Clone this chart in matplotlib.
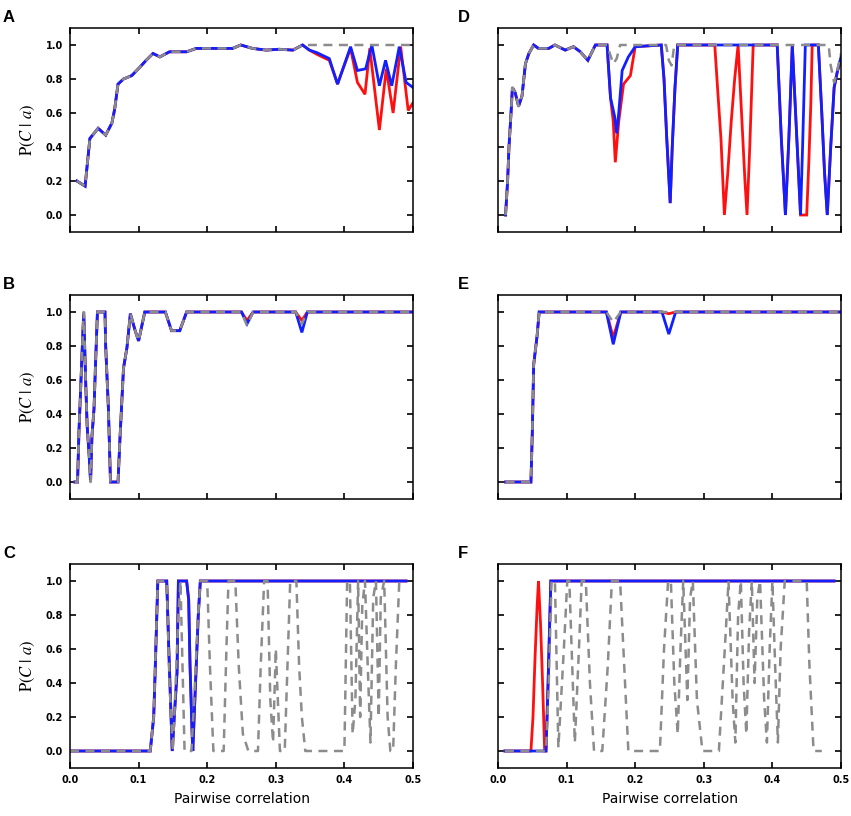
import matplotlib
matplotlib.use('Agg')
import matplotlib.pyplot as plt

plt.rcParams['mathtext.fontset'] = 'stix'
plt.rcParams['font.family'] = 'DejaVu Sans'

# ---- panel A ----
a_x_red = [0.010, 0.022, 0.029, 0.041, 0.052, 0.061, 0.065, 0.070, 0.078, 0.090, 0.102, 0.111,
           0.121, 0.131, 0.145, 0.170, 0.184, 0.237, 0.249, 0.266, 0.286, 0.305, 0.325, 0.339,
           0.349, 0.360, 0.378, 0.390, 0.397, 0.409, 0.419, 0.430, 0.437, 0.451, 0.461, 0.471,
           0.482, 0.493, 0.500]
a_y_red = [0.20, 0.17, 0.45, 0.51, 0.47, 0.54, 0.62, 0.77, 0.80, 0.82, 0.87, 0.91,
           0.95, 0.93, 0.96, 0.96, 0.98, 0.98, 1.00, 0.98, 0.97, 0.975, 0.97, 1.00,
           0.97, 0.945, 0.91, 0.77, 0.85, 0.98, 0.78, 0.71, 0.98, 0.50, 0.86, 0.60,
           0.99, 0.615, 0.66]
a_x_blue = [0.010, 0.022, 0.029, 0.041, 0.052, 0.061, 0.065, 0.070, 0.078, 0.090, 0.102, 0.111,
            0.121, 0.131, 0.145, 0.170, 0.184, 0.237, 0.249, 0.266, 0.286, 0.305, 0.325, 0.339,
            0.349, 0.360, 0.378, 0.390, 0.397, 0.409, 0.419, 0.431, 0.440, 0.451, 0.460, 0.469,
            0.480, 0.490, 0.500]
a_y_blue = [0.20, 0.17, 0.45, 0.51, 0.47, 0.54, 0.62, 0.77, 0.80, 0.82, 0.87, 0.91,
            0.95, 0.93, 0.96, 0.96, 0.98, 0.98, 1.00, 0.98, 0.97, 0.975, 0.97, 1.00,
            0.97, 0.955, 0.92, 0.77, 0.85, 0.99, 0.85, 0.86, 1.00, 0.76, 0.91, 0.76,
            0.99, 0.78, 0.75]
a_x_grey = [0.010, 0.022, 0.029, 0.041, 0.052, 0.061, 0.065, 0.070, 0.078, 0.090, 0.102, 0.111,
            0.121, 0.131, 0.145, 0.170, 0.184, 0.237, 0.249, 0.266, 0.286, 0.305, 0.325, 0.339,
            0.500]
a_y_grey = [0.20, 0.17, 0.45, 0.51, 0.47, 0.54, 0.62, 0.77, 0.80, 0.82, 0.87, 0.91,
            0.95, 0.93, 0.96, 0.96, 0.98, 0.98, 1.00, 0.98, 0.97, 0.975, 0.97, 1.00,
            1.00]

# ---- panel B ----
b_x = [0.007, 0.011, 0.013, 0.017, 0.020, 0.023, 0.025, 0.028, 0.030, 0.032, 0.035, 0.037,
       0.040, 0.051, 0.052, 0.056, 0.059, 0.070, 0.073, 0.078, 0.083, 0.088, 0.095, 0.100,
       0.109, 0.139, 0.148, 0.160, 0.170, 0.250, 0.258, 0.267, 0.329, 0.338, 0.346, 0.500]
b_y_red = [0.0, 0.0, 0.29, 0.70, 1.0, 0.57, 0.33, 0.15, 0.0, 0.27, 0.43, 0.67,
           1.0, 1.0, 0.80, 0.43, 0.0, 0.0, 0.27, 0.67, 0.79, 0.99, 0.89, 0.83,
           1.0, 1.0, 0.89, 0.89, 1.0, 1.0, 0.95, 1.0, 1.0, 0.95, 1.0, 1.0]
b_y_blue = [0.0, 0.0, 0.29, 0.70, 1.0, 0.57, 0.33, 0.15, 0.0, 0.27, 0.43, 0.67,
            1.0, 1.0, 0.80, 0.43, 0.0, 0.0, 0.27, 0.67, 0.79, 0.99, 0.89, 0.83,
            1.0, 1.0, 0.89, 0.89, 1.0, 1.0, 0.93, 1.0, 1.0, 0.88, 1.0, 1.0]
b_y_grey = [0.0, 0.0, 0.29, 0.70, 1.0, 0.57, 0.33, 0.15, 0.0, 0.27, 0.43, 0.67,
            1.0, 1.0, 0.80, 0.43, 0.0, 0.0, 0.27, 0.67, 0.79, 0.99, 0.89, 0.83,
            1.0, 1.0, 0.89, 0.89, 1.0, 1.0, 0.92, 1.0, 1.0, 0.93, 1.0, 1.0]

# ---- panel C ----
c_x_blue = [0.0, 0.117, 0.122, 0.124, 0.128, 0.141, 0.144, 0.149, 0.152, 0.156, 0.158, 0.170,
            0.173, 0.175, 0.178, 0.179, 0.183, 0.187, 0.190, 0.490]
c_y_blue = [0.0, 0.0, 0.2, 0.45, 1.0, 1.0, 0.6, 0.0, 0.2, 0.46, 1.0, 1.0,
            0.89, 0.5, 0.1, 0.0, 0.4, 0.8, 1.0, 1.0]
c_x_red = c_x_blue
c_y_red = c_y_blue
c_x_grey = [0.000, 0.117, 0.122, 0.128, 0.141, 0.145, 0.150, 0.153, 0.158, 0.161, 0.164, 0.167,
            0.177, 0.181, 0.186, 0.190, 0.200, 0.204, 0.209, 0.216, 0.224, 0.228, 0.231, 0.241,
            0.246, 0.252, 0.260, 0.274, 0.278, 0.283, 0.288, 0.292, 0.296, 0.300, 0.303, 0.306,
            0.313, 0.317, 0.321, 0.330, 0.334, 0.338, 0.343, 0.400, 0.404, 0.408, 0.412, 0.416,
            0.420, 0.423, 0.426, 0.430, 0.434, 0.438, 0.442, 0.446, 0.450, 0.453, 0.458, 0.463,
            0.467, 0.471, 0.475, 0.480, 0.485]
c_y_grey = [0.0, 0.0, 0.2, 1.0, 1.0, 0.4, 0.0, 0.3, 0.8, 1.0, 0.5, 0.0,
            0.0, 0.3, 0.75, 1.0, 1.0, 0.5, 0.0, 0.0, 0.0, 0.6, 1.0, 1.0,
            0.5, 0.1, 0.0, 0.0, 0.5, 1.0, 1.0, 0.3, 0.05, 0.6, 0.3, 0.0,
            0.0, 0.5, 1.0, 1.0, 0.5, 0.2, 0.0, 0.0, 1.0, 1.0, 0.1, 0.3,
            1.0, 0.2, 0.85, 1.0, 0.5, 0.05, 0.9, 1.0, 0.2, 0.9, 1.0, 0.2,
            0.0, 0.0, 0.5, 1.0, 1.0]

# ---- panel D ----
d_x_red = [0.011, 0.014, 0.016, 0.019, 0.021, 0.025, 0.030, 0.035, 0.040, 0.045, 0.052, 0.059,
           0.074, 0.083, 0.098, 0.110, 0.120, 0.131, 0.142, 0.159,
           0.164, 0.168, 0.171, 0.176, 0.183, 0.193, 0.200, 0.238, 0.242, 0.246, 0.251, 0.254,
           0.258, 0.262, 0.316, 0.320, 0.325, 0.330, 0.335, 0.340, 0.345, 0.350, 0.355, 0.360,
           0.363, 0.367, 0.372, 0.407, 0.413, 0.419, 0.424, 0.429, 0.435, 0.441, 0.450, 0.453,
           0.456, 0.458, 0.467, 0.472, 0.476, 0.480, 0.485, 0.490, 0.495, 0.500]
d_y_red = [0.0, 0.2, 0.40, 0.60, 0.75, 0.72, 0.64, 0.70, 0.89, 0.95, 1.0, 0.98,
           0.98, 1.0, 0.97, 0.99, 0.96, 0.91, 1.0, 1.0,
           0.69, 0.55, 0.31, 0.55, 0.77, 0.82, 0.99, 1.0, 0.80, 0.45, 0.07, 0.40,
           0.75, 1.0, 1.0, 0.75, 0.45, 0.0, 0.25, 0.55, 0.80, 1.0, 0.60, 0.20,
           0.0, 0.40, 1.0, 1.0, 0.45, 0.0, 0.45, 1.0, 0.50, 0.0, 0.0, 0.30,
           0.65, 1.0, 1.0, 0.60, 0.25, 0.0, 0.40, 0.75, 0.85, 0.90]
d_x_blue = [0.011, 0.014, 0.016, 0.019, 0.021, 0.025, 0.030, 0.035, 0.040, 0.045, 0.052, 0.059,
            0.074, 0.083, 0.098, 0.110, 0.120, 0.131, 0.142, 0.159,
            0.164, 0.170, 0.173, 0.176, 0.181, 0.190, 0.200, 0.238, 0.242, 0.246, 0.251, 0.254,
            0.258, 0.262, 0.407, 0.413, 0.419, 0.424, 0.429, 0.435, 0.441, 0.444, 0.448, 0.467,
            0.472, 0.476, 0.480, 0.485, 0.490, 0.495, 0.500]
d_y_blue = [0.0, 0.2, 0.40, 0.60, 0.75, 0.72, 0.64, 0.70, 0.89, 0.95, 1.0, 0.98,
            0.98, 1.0, 0.97, 0.99, 0.96, 0.91, 1.0, 1.0,
            0.69, 0.58, 0.48, 0.60, 0.85, 0.93, 0.99, 1.0, 0.80, 0.45, 0.07, 0.40,
            0.75, 1.0, 1.0, 0.45, 0.0, 0.45, 1.0, 0.50, 0.0, 0.40, 1.0, 1.0,
            0.60, 0.25, 0.0, 0.40, 0.75, 0.85, 0.93]
d_x_grey = [0.011, 0.014, 0.016, 0.019, 0.021, 0.025, 0.030, 0.035, 0.040, 0.045, 0.052, 0.059,
            0.074, 0.083, 0.098, 0.110, 0.120, 0.131, 0.142, 0.159,
            0.163, 0.168, 0.173, 0.178, 0.245, 0.249, 0.253, 0.257, 0.482, 0.485, 0.490, 0.495,
            0.500]
d_y_grey = [0.0, 0.2, 0.40, 0.60, 0.75, 0.72, 0.64, 0.70, 0.89, 0.95, 1.0, 0.98,
            0.98, 1.0, 0.97, 0.99, 0.96, 0.91, 1.0, 1.0,
            0.95, 0.89, 0.92, 1.0, 1.0, 0.91, 0.88, 1.0, 1.0, 0.88, 0.78, 0.86,
            0.95]

# ---- panel E ----
e_x = [0.011, 0.048, 0.050, 0.052, 0.057, 0.060, 0.158, 0.168, 0.179, 0.239, 0.249, 0.259, 0.500]
e_y_red = [0.0, 0.0, 0.29, 0.69, 0.86, 1.0, 1.0, 0.85, 1.0, 1.0, 0.99, 1.0, 1.0]
e_y_blue = [0.0, 0.0, 0.29, 0.69, 0.86, 1.0, 1.0, 0.81, 1.0, 1.0, 0.87, 1.0, 1.0]
e_y_grey = [0.0, 0.0, 0.29, 0.69, 0.86, 1.0, 1.0, 0.94, 1.0, 1.0, 1.0, 1.0, 1.0]

# ---- panel F ----
f_x_red = [0.010, 0.048, 0.051, 0.054, 0.057, 0.059, 0.062, 0.065, 0.068, 0.070, 0.073, 0.077, 0.490]
f_y_red = [0.0, 0.0, 0.2, 0.55, 0.85, 1.0, 0.75, 0.4, 0.0, 0.0, 0.4, 1.0, 1.0]
f_x_blue = [0.010, 0.070, 0.073, 0.077, 0.490]
f_y_blue = [0.0, 0.0, 0.4, 1.0, 1.0]
f_x_grey = [0.010, 0.070, 0.074, 0.078, 0.083, 0.088, 0.096, 0.101, 0.104, 0.112, 0.118, 0.122,
            0.128, 0.134, 0.140, 0.152, 0.160, 0.166, 0.178, 0.184, 0.190, 0.236, 0.242, 0.248,
            0.252, 0.257, 0.262, 0.266, 0.270, 0.276, 0.280, 0.284, 0.290, 0.298, 0.322, 0.332,
            0.336, 0.342, 0.346, 0.350, 0.354, 0.358, 0.362, 0.366, 0.370, 0.374, 0.378, 0.382,
            0.388, 0.392, 0.396, 0.400, 0.404, 0.408, 0.412, 0.418, 0.450, 0.454, 0.460, 0.472]
f_y_grey = [0.0, 0.0, 0.4, 1.0, 1.0, 0.02, 0.6, 1.0, 1.0, 0.05, 0.6, 1.0,
            1.0, 0.4, 0.0, 0.0, 0.5, 1.0, 1.0, 0.5, 0.0, 0.0, 0.6, 1.0,
            1.0, 0.4, 0.1, 0.6, 1.0, 0.3, 0.9, 1.0, 0.3, 0.0, 0.0, 0.7,
            1.0, 0.3, 0.05, 0.8, 1.0, 0.4, 0.1, 0.7, 1.0, 0.4, 0.9, 1.0,
            0.3, 0.05, 0.6, 1.0, 0.5, 0.05, 0.6, 1.0, 1.0, 0.5, 0.0, 0.0]

panels = [
    ('A', (a_x_red, a_y_red), (a_x_blue, a_y_blue), (a_x_grey, a_y_grey)),
    ('B', (b_x, b_y_red), (b_x, b_y_blue), (b_x, b_y_grey)),
    ('C', (c_x_red, c_y_red), (c_x_blue, c_y_blue), (c_x_grey, c_y_grey)),
    ('D', (d_x_red, d_y_red), (d_x_blue, d_y_blue), (d_x_grey, d_y_grey)),
    ('E', (e_x, e_y_red), (e_x, e_y_blue), (e_x, e_y_grey)),
    ('F', (f_x_red, f_y_red), (f_x_blue, f_y_blue), (f_x_grey, f_y_grey)),
]

W, H = 851, 816
fig = plt.figure(figsize=(W / 100, H / 100), dpi=100)

lefts = [70, 498]
tops = [28, 295, 564]
aw, ah = 343, 204

for i, (letter, red, blue, grey) in enumerate(panels):
    col, row = divmod(i, 3)
    l, t = lefts[col], tops[row]
    ax = fig.add_axes([l / W, 1 - (t + ah) / H, aw / W, ah / H])
    ax.plot(*red, color='#ff1010', lw=2.0, solid_joinstyle='miter')
    ax.plot(*blue, color='#1020ff', lw=2.0, solid_joinstyle='miter')
    ax.plot(*grey, color='#8c8c8c', lw=1.8, dashes=(3.6, 2.6))
    ax.set_xlim(0, 0.5)
    ax.set_ylim(-0.1, 1.1)
    ax.set_xticks([0.0, 0.1, 0.2, 0.3, 0.4, 0.5])
    ax.set_yticks([0.0, 0.2, 0.4, 0.6, 0.8, 1.0])
    ax.tick_params(direction='in', top=True, right=True, length=4, width=1.2,
                   labelsize=7, pad=5)
    for s in ax.spines.values():
        s.set_linewidth(1.1)
    ax.xaxis.set_major_formatter(plt.FormatStrFormatter('%.1f'))
    ax.yaxis.set_major_formatter(plt.FormatStrFormatter('%.1f'))
    for lab in ax.get_xticklabels() + ax.get_yticklabels():
        lab.set_fontweight('bold')
    if row < 2:
        ax.set_xticklabels([])
    else:
        ax.set_xlabel('Pairwise correlation', fontsize=10, labelpad=5)
    if col == 1:
        ax.set_yticklabels([])
    else:
        ax.set_ylabel(r'$\mathrm{P}(C\ |\ a)$', fontsize=12, labelpad=6)
    fig.text((3 if col == 0 else 458) / W, 1 - (t - 18) / H, letter,
             fontsize=12, fontweight='bold', family='Liberation Sans',
             ha='left', va='top')

fig.savefig('out.png', dpi=100)
